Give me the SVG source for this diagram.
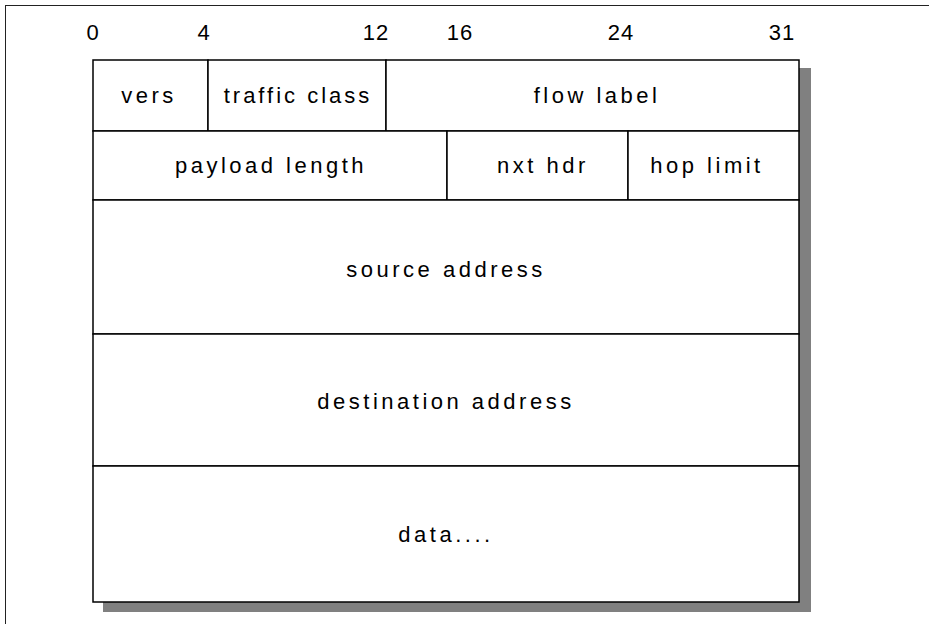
<svg xmlns="http://www.w3.org/2000/svg" width="929" height="624" viewBox="0 0 929 624">
<style>
.cell{fill:#fff;stroke:#000;stroke-width:1.5}
.lbl{font-family:"Liberation Sans",Arial,sans-serif;font-size:22px;letter-spacing:3.5px;fill:#000;text-anchor:middle}
.num{font-family:"Liberation Sans",Arial,sans-serif;font-size:22px;letter-spacing:1px;fill:#000;text-anchor:middle}
</style>
<rect x="0" y="0" width="929" height="624" fill="#fff"/>
<rect x="5.5" y="5.5" width="1000" height="1000" fill="none" stroke="#222" stroke-width="1"/>
<g id="bit-scale">
<text class="num" x="93" y="40">0</text>
<text class="num" x="204" y="40">4</text>
<text class="num" x="376" y="40">12</text>
<text class="num" x="460" y="40">16</text>
<text class="num" x="621" y="40">24</text>
<text class="num" x="782" y="40">31</text>
</g>
<rect id="shadow" x="103" y="68" width="708" height="544" fill="#808080"/>
<g id="vers"><rect class="cell" x="93" y="60" width="115" height="71"/><text class="lbl" x="149" y="103">vers</text></g>
<g id="traffic-class"><rect class="cell" x="208" y="60" width="178" height="71"/><text class="lbl" x="298" y="103" style="letter-spacing:3px">traffic class</text></g>
<g id="flow-label"><rect class="cell" x="386" y="60" width="413" height="71"/><text class="lbl" x="597" y="103">flow label</text></g>
<g id="payload-length"><rect class="cell" x="93" y="131" width="354" height="69"/><text class="lbl" x="271" y="173">payload length</text></g>
<g id="nxt-hdr"><rect class="cell" x="447" y="131" width="181" height="69"/><text class="lbl" x="543" y="173">nxt hdr</text></g>
<g id="hop-limit"><rect class="cell" x="628" y="131" width="171" height="69"/><text class="lbl" x="707" y="173">hop limit</text></g>
<g id="source-address"><rect class="cell" x="93" y="200" width="706" height="134"/><text class="lbl" x="446" y="277">source address</text></g>
<g id="destination-address"><rect class="cell" x="93" y="334" width="706" height="132"/><text class="lbl" x="446" y="409">destination address</text></g>
<g id="data"><rect class="cell" x="93" y="466" width="706" height="136"/><text class="lbl" x="446" y="542">data....</text></g>
</svg>
